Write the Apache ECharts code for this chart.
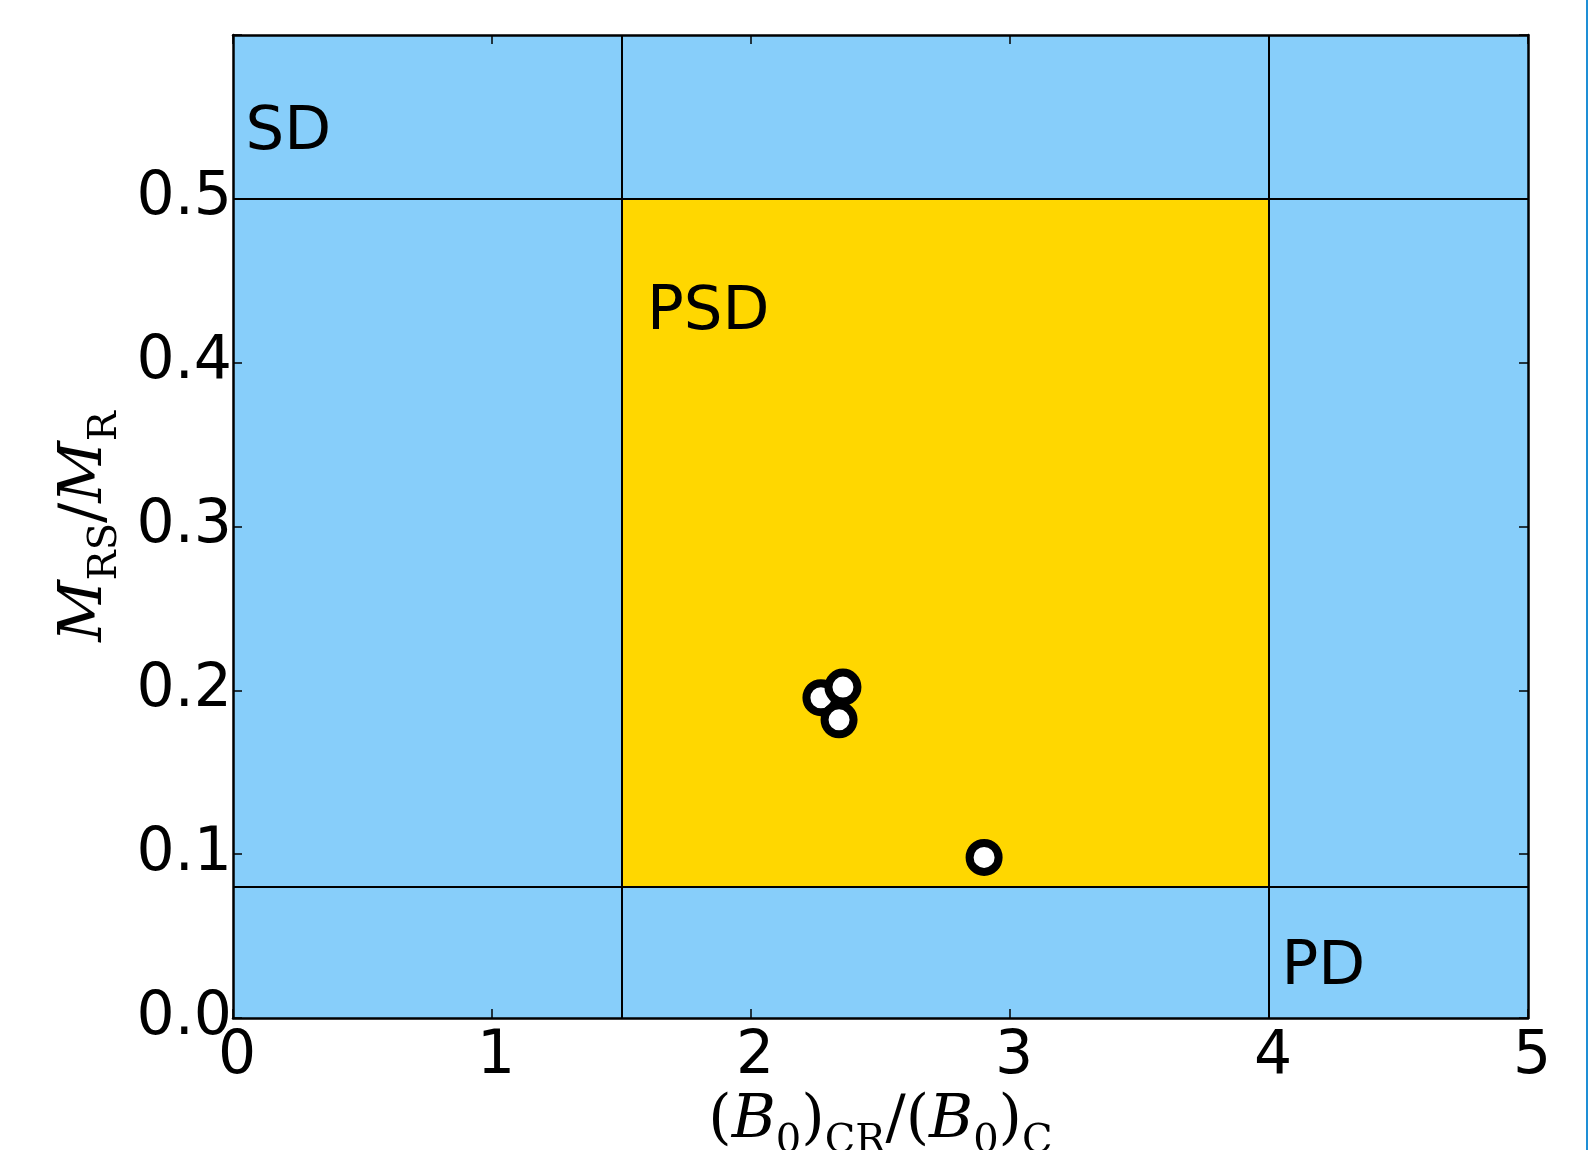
<!DOCTYPE html>
<html>
<head>
<meta charset="utf-8">
<script src="https://cdn.jsdelivr.net/npm/echarts@6/dist/echarts.min.js"></script>
<style>
  html, body { margin: 0; padding: 0; background: #fff; }
  #chart { width: 1589px; height: 1150px; }
</style>
</head>
<body>
<div id="chart"></div>
<script>
// axis ranges and ticks
const xTicks = [0, 1, 2, 3, 4, 5];
const yTicks = [0, 0.1, 0.2, 0.3, 0.4, 0.5, 0.6];

// region boundaries
const vLines = [1.5, 4.0];
const hLines = [0.5, 0.08];
const psdBox = [[1.5, 0.08], [4.0, 0.5]];

// measured points
const pointsX = [2.27, 2.355, 2.34, 2.90];
const pointsY = [0.1955, 0.202, 0.182, 0.098];

// region labels
const regionNames = ['SD', 'PSD', 'PD'];
const regionX = [0.05, 1.6, 4.05];
const regionY = [0.540, 0.430, 0.030];

const blue = '#87CEFA';
const gold = '#FFD700';

const chart = echarts.init(document.getElementById('chart'));

const tickStyle = { show: true, inside: true, length: 9, lineStyle: { color: '#000', width: 1.5 } };
const lineStyle = { show: true, onZero: false, lineStyle: { color: '#000', width: 2.5 } };

const mathRich = {
  p: { fontFamily: 'DejaVu Serif', fontSize: 60, lineHeight: 60, verticalAlign: 'top', color: '#000' },
  i: { fontFamily: 'DejaVu Serif', fontStyle: 'italic', fontSize: 60, lineHeight: 60, verticalAlign: 'top', color: '#000' },
  s: { fontFamily: 'DejaVu Serif', fontSize: 40, lineHeight: 40, padding: [30, 0, 0, 0], verticalAlign: 'top', color: '#000' }
};

const option = {
  animation: false,
  grid: {
    left: 233, right: 61, top: 35, bottom: 132,
    outerBoundsMode: 'none',
    show: true, backgroundColor: blue, borderWidth: 0
  },
  xAxis: [
    {
      type: 'value', min: 0, max: 5, interval: 1, position: 'bottom', z: 10,
      axisLine: lineStyle, axisTick: tickStyle, splitLine: { show: false },
      axisLabel: { fontFamily: 'DejaVu Sans', fontSize: 60, color: '#000', margin: 9, padding: [0, 0, 0, 8] },
      name: '{p|(}{i|B}{s|0}{p|)}{s|CR}{p|/(}{i|B}{s|0}{p|)}{s|C}',
      nameLocation: 'middle', nameGap: 62,
      nameTextStyle: { rich: mathRich }
    },
    {
      type: 'value', min: 0, max: 5, interval: 1, position: 'top', z: 10,
      axisLine: lineStyle, axisTick: tickStyle, splitLine: { show: false },
      axisLabel: { show: false }
    }
  ],
  yAxis: [
    {
      type: 'value', min: 0, max: 0.6, interval: 0.1, position: 'left', z: 10,
      axisLine: lineStyle, axisTick: tickStyle, splitLine: { show: false },
      axisLabel: {
        fontFamily: 'DejaVu Sans', fontSize: 60, color: '#000', margin: 1,
        formatter: v => (v > 0.55 ? '' : v.toFixed(1))
      },
      name: '{i|M}{s|RS}{p|/}{i|M}{s|R}',
      nameLocation: 'middle', nameGap: 104, nameRotate: 90,
      nameTextStyle: { rich: mathRich }
    },
    {
      type: 'value', min: 0, max: 0.6, interval: 0.1, position: 'right', z: 10,
      axisLine: lineStyle, axisTick: tickStyle, splitLine: { show: false },
      axisLabel: { show: false }
    }
  ],
  graphic: [
    { type: 'rect', left: 1586, top: 0, shape: { width: 2, height: 1150 }, style: { fill: '#1E8FD6' } }
  ],
  series: [
    {
      type: 'scatter',
      data: [],
      markArea: {
        silent: true,
        itemStyle: { color: gold },
        data: [[{ coord: psdBox[0] }, { coord: psdBox[1] }]]
      },
      markLine: {
        silent: true,
        symbol: ['none', 'none'],
        label: { show: false },
        lineStyle: { color: '#000', width: 2, type: 'solid' },
        data: vLines.map(v => ({ xAxis: v })).concat(hLines.map(v => ({ yAxis: v })))
      }
    },
    {
      type: 'scatter',
      symbol: 'circle',
      symbolSize: 29,
      itemStyle: { color: '#fff', borderColor: '#000', borderWidth: 8, opacity: 1 },
      data: pointsX.map((x, i) => [x, pointsY[i]]),
      z: 5
    },
    {
      type: 'scatter',
      symbolSize: 1,
      itemStyle: { color: 'rgba(0,0,0,0)' },
      label: {
        show: true, position: [0, 0], align: 'left', verticalAlign: 'middle',
        fontFamily: 'DejaVu Sans', fontSize: 61, color: '#000', opacity: 1,
        textBorderWidth: 0, textShadowBlur: 0,
        formatter: p => regionNames[p.dataIndex]
      },
      data: regionX.map((x, i) => [x, regionY[i]]),
      z: 6
    }
  ]
};

chart.setOption(option);
</script>
</body>
</html>
